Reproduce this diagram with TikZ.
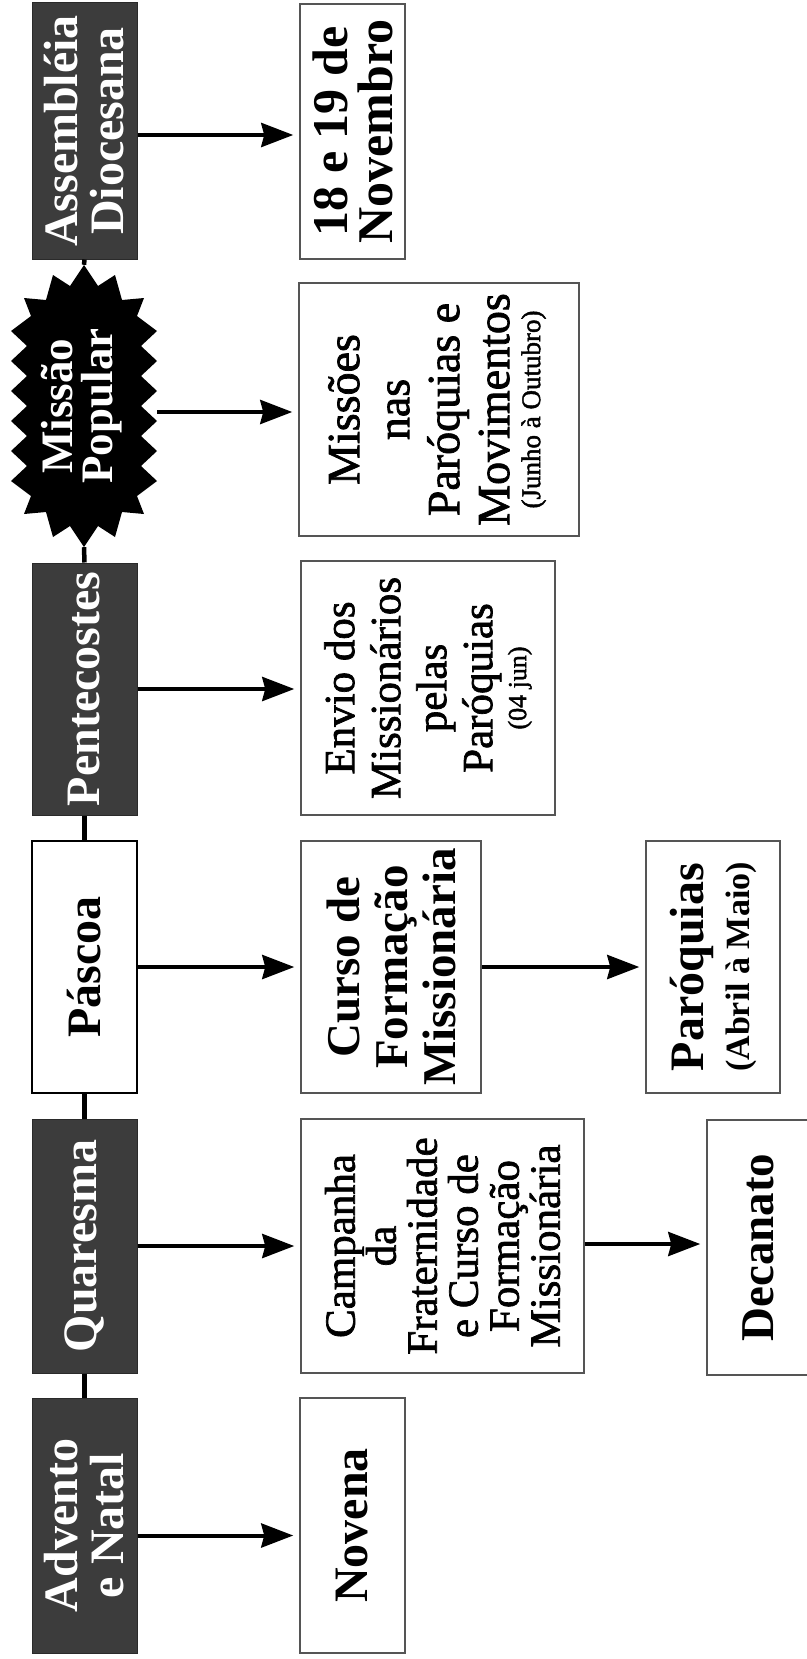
\documentclass[tikz,border=0pt]{standalone}
\usepackage{fontspec}
\setmainfont{Liberation Serif}
\newfontfamily\medfont{Liberation Serif}[FakeBold=1.6]
\usetikzlibrary{arrows.meta,fit}
\definecolor{dk}{RGB}{60,60,60}
\definecolor{bd}{RGB}{85,85,85}
\begin{document}
\lineskiplimit=-100pt\relax
\lineskip=0pt\relax
\begin{tikzpicture}[x=1pt,y=-1pt,
  dark/.style={fill=dk, draw=dk!70!black, line width=1pt, inner sep=0pt},
  wbox/.style={fill=white, draw=bd, line width=1.5pt, inner sep=0pt},
  lbl/.style={rotate=90, align=center, inner sep=0pt,
    font=\bfseries\fontsize{48}{46}\selectfont},
  rlbl/.style={rotate=90, align=center, inner sep=0pt},
  spine/.style={line width=4.5pt, black},
  arr/.style={line width=4pt, black, -{Stealth[length=32pt,width=24pt,inset=3pt]}, shorten >=6pt}
]
\useasboundingbox (0,0) rectangle (806,1659);

% left column
\node[dark, fit={(32,3) (137,259)}] (assemb) {};
\node[inner sep=0pt, fit={(11,265) (157,547)}] (mis) {};
\fill[black, shift={(mis.center)}]
  (0,-141) -- (14,-120) -- (31,-131) -- (38,-106) -- (60,-108) -- (53,-90) -- (73,-75)
  -- (57,-60) -- (73,-45) -- (57,-30) -- (73,-15) -- (57,0) -- (73,15) -- (57,30)
  -- (73,45) -- (57,60) -- (73,75) -- (53,90) -- (60,108) -- (38,106) -- (31,131)
  -- (14,120) -- (0,141)
  -- (-14,120) -- (-31,131) -- (-38,106) -- (-60,108) -- (-53,90) -- (-73,75)
  -- (-57,60) -- (-73,45) -- (-57,30) -- (-73,15) -- (-57,0) -- (-73,-15) -- (-57,-30)
  -- (-73,-45) -- (-57,-60) -- (-73,-75) -- (-53,-90) -- (-60,-108) -- (-38,-106)
  -- (-31,-131) -- (-14,-120) -- cycle;
\node[dark, fit={(32,563) (137,815)}] (pente) {};
\node[wbox, draw=black, line width=2pt, fit={(32,841) (137,1093)}] (pascoa) {};
\node[dark, fit={(32,1119) (137,1373)}] (quar) {};
\node[dark, fit={(32,1398) (137,1653)}] (adv) {};

% right boxes
\node[wbox, fit={(300,4) (405,259)}] (nov) {};
\node[wbox, fit={(299,283) (579,536)}] (missoes) {};
\node[wbox, fit={(301,561) (555,815)}] (envio) {};
\node[wbox, fit={(301,841) (481,1093)}] (curso) {};
\node[wbox, fit={(646,841) (780,1093)}] (paroq) {};
\node[wbox, fit={(301,1119) (584,1373)}] (camp) {};
\node[wbox, fit={(707,1120) (809,1375)}] (dec) {};
\node[wbox, fit={(300,1398) (405,1653)}] (novena) {};

% spine
\draw[spine] (assemb.south) -- (mis.north);
\draw[spine] (mis.south) -- (pente.north);
\draw[spine] (pente.south) -- (pascoa.north);
\draw[spine] (pascoa.south) -- (quar.north);
\draw[spine] (quar.south) -- (adv.north);

% labels
\node[lbl, text=white] (assemb-t) at (assemb.center) {Assembléia\\Diocesana};
\node[lbl, text=white, font=\bfseries\fontsize{45}{40}\selectfont] (mis-t) at ([xshift=-2pt]mis.center) {Missão\\Popular};
\node[lbl, text=white] (pente-t) at (pente.center) {Pentecostes};
\node[lbl] (pascoa-t) at (pascoa.center) {Páscoa};
\node[lbl, text=white] (quar-t) at (quar.center) {Quaresma};
\node[lbl, text=white] (adv-t) at (adv.center) {Advento\\e Natal};

\node[lbl, font=\bfseries\fontsize{50}{45}\selectfont] (nov-t) at (nov.center) {18 e 19 de\\Novembro};
\node[rlbl, font=\medfont\fontsize{46}{50}\selectfont] (missoes-t) at ([xshift=-2pt]missoes.center)
  {Missões\\nas\\Paróquias e\\Movimentos\\[-19pt]{\fontsize{27}{30}\selectfont (Junho à Outubro)}};
\node[rlbl, font=\medfont\fontsize{43}{46}\selectfont] (envio-t) at (envio.center)
  {Envio dos\\Missionários\\pelas\\Paróquias\\[-12pt]{\fontsize{26}{30}\selectfont (04 jun)}};
\node[lbl, font=\bfseries\fontsize{47}{48}\selectfont] (curso-t) at (curso.center) {Curso de\\Formação\\Missionária};
\node[lbl] (paroq-t) at (paroq.center) {Paróquias\\{\fontsize{34}{40}\selectfont (Abril à Maio)}};
\node[rlbl, font=\medfont\fontsize{43}{41}\selectfont] (camp-t) at (camp.center)
  {Campanha\\da\\Fraternidade\\e Curso de\\Formação\\Missionária};
\node[lbl, font=\bfseries\fontsize{47}{46}\selectfont] (dec-t) at (dec.center) {Decanato};
\node[lbl] (novena-t) at (novena.center) {Novena};

% arrows
\coordinate (a1) at ([yshift=-4pt]assemb.east);
\draw[arr] (a1) -- (a1 -| nov.west);
\coordinate (a2) at ([yshift=-6pt]mis.east);
\draw[arr] (a2) -- (a2 -| missoes.west);
\draw[arr] (pente.east) -- (pente.east -| envio.west);
\draw[arr] (pascoa.east) -- (pascoa.east -| curso.west);
\draw[arr] (curso.east) -- (curso.east -| paroq.west);
\draw[arr] (quar.east) -- (quar.east -| camp.west);
\coordinate (a7) at ([yshift=2pt]camp.east);
\draw[arr] (a7) -- (a7 -| dec.west);
\coordinate (a8) at ([yshift=-10pt]adv.east);
\draw[arr] (a8) -- (a8 -| novena.west);
\end{tikzpicture}
\end{document}
